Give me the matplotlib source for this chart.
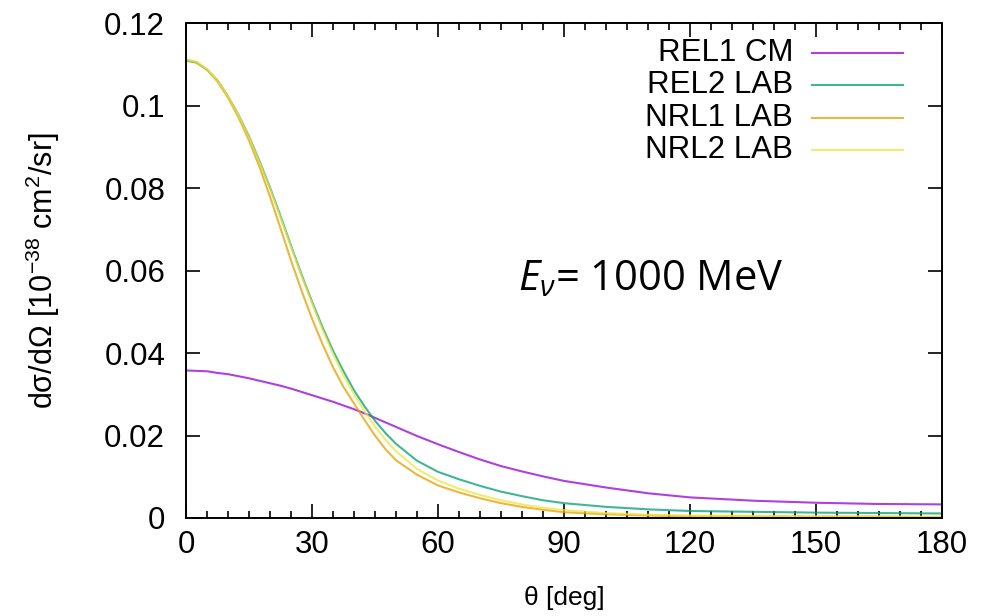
import matplotlib
matplotlib.use('Agg')
import matplotlib.pyplot as plt
from matplotlib.ticker import MultipleLocator, FuncFormatter

plt.rcParams['font.family'] = ['Liberation Sans', 'DejaVu Sans']
plt.rcParams['mathtext.fontset'] = 'custom'
plt.rcParams['mathtext.rm'] = 'Open Sans'
plt.rcParams['mathtext.it'] = 'Open Sans:italic'

# angles in degrees
theta = [0, 2.5, 5, 7.5, 10, 12.5, 15, 17.5, 20, 22.5, 25, 27.5, 30, 32.5, 35, 37.5,
         40, 42.5, 45, 47.5, 50, 55, 60, 65, 70, 75, 80, 85, 90,
         100, 110, 120, 135, 150, 165, 180]

# cross sections (10^-38 cm^2/sr)
rel1_cm = [0.0358, 0.0357, 0.0356, 0.0352, 0.0349, 0.0344, 0.0339, 0.0333, 0.0327, 0.0321,
           0.0314, 0.0306, 0.0298, 0.0290, 0.0282, 0.0273, 0.0264, 0.0254, 0.0243, 0.0232,
           0.0221, 0.0199, 0.0179, 0.0160, 0.0142, 0.0126, 0.0113, 0.0101, 0.0090,
           0.0074, 0.0060, 0.0050, 0.0042, 0.0037, 0.0034, 0.0033]
rel2_lab = [0.1110, 0.1105, 0.1088, 0.1062, 0.1023, 0.0978, 0.0926, 0.0866, 0.0802, 0.0733,
            0.0661, 0.0591, 0.0525, 0.0463, 0.0406, 0.0356, 0.0310, 0.0271, 0.0236, 0.0206,
            0.0180, 0.0139, 0.0112, 0.0094, 0.0078, 0.0064, 0.0053, 0.0043, 0.0036,
            0.0027, 0.0021, 0.0017, 0.0015, 0.0013, 0.0012, 0.0011]
nrl1_lab = [0.1112, 0.1106, 0.1088, 0.1059, 0.1020, 0.0972, 0.0916, 0.0852, 0.0780, 0.0703,
            0.0625, 0.0552, 0.0484, 0.0422, 0.0366, 0.0318, 0.0278, 0.0238, 0.0200, 0.0167,
            0.0140, 0.0105, 0.0079, 0.0062, 0.0048, 0.0036, 0.0027, 0.0020, 0.0014,
            0.0009, 0.0006, 0.0004, 0.0004, 0.0003, 0.0003, 0.0002]
nrl2_lab = [0.1112, 0.1107, 0.1089, 0.1062, 0.1023, 0.0977, 0.0924, 0.0863, 0.0799, 0.0729,
            0.0658, 0.0587, 0.0521, 0.0457, 0.0398, 0.0346, 0.0300, 0.0259, 0.0222, 0.0190,
            0.0162, 0.0119, 0.0091, 0.0071, 0.0056, 0.0043, 0.0033, 0.0025, 0.0019,
            0.0012, 0.0008, 0.0006, 0.0005, 0.0004, 0.0004, 0.0003]

labels = ['REL1 CM', 'REL2 LAB', 'NRL1 LAB', 'NRL2 LAB']
colors = ['#9400d3', '#009e73', '#e69f00', '#f0e442']
series = [rel1_cm, rel2_lab, nrl1_lab, nrl2_lab]

fig = plt.figure(figsize=(9.81, 6.16), dpi=100)
ax = fig.add_axes([0.1896, 0.1591, 0.7706, 0.8028])

for ys, c in zip(series, colors):
    ax.plot(theta, ys, color=c, linewidth=1.5, alpha=0.75)

ax.set_xlim(0, 180)
ax.set_ylim(0, 0.12)
ax.set_xticks(range(0, 181, 30))
ax.xaxis.set_minor_locator(MultipleLocator(5))
ax.yaxis.set_major_locator(MultipleLocator(0.02))
ax.yaxis.set_major_formatter(FuncFormatter(lambda v, p: '%g' % round(v, 4)))

ax.tick_params(which='both', direction='in', top=True, right=True, width=1.2, colors='black')
ax.tick_params(which='major', length=10, labelsize=22.5)
ax.tick_params(which='minor', length=5)
ax.tick_params(axis='x', pad=9)
ax.tick_params(axis='y', pad=15)
for s in ax.spines.values():
    s.set_linewidth(1.4)

ax.set_xlabel('θ [deg]', fontsize=19)
ax.xaxis.set_label_coords(0.5, -0.137)
ax.set_ylabel(r'dσ/dΩ [$\mathregular{10^{-38}}$ cm$\mathregular{^2}$/sr]', fontsize=22)
ax.yaxis.set_label_coords(-0.164, 0.5)

# legend: text right aligned, sample line after it
for i, (lab, c) in enumerate(zip(labels, colors)):
    yy = 0.9397 - i * 0.0651
    ax.text(0.803, yy, lab, transform=ax.transAxes, ha='right', va='center', fontsize=22.5)
    ax.plot([0.828, 0.948], [yy, yy], transform=ax.transAxes, color=c, linewidth=1.5, alpha=0.75)

ax.text(79.0, 0.0553, r'$E_\nu$= 1000 MeV', fontsize=30, family='Open Sans')

fig.savefig('out.png', dpi=100)
